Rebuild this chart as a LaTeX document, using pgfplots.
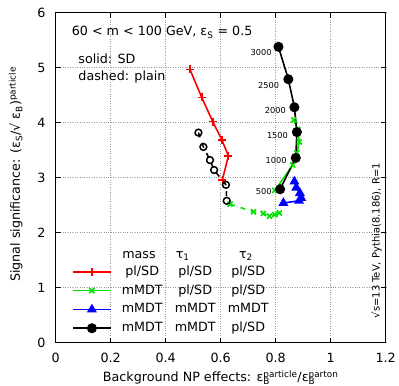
\documentclass[border=0pt]{standalone}
\usepackage{fontspec}
\setmainfont{DejaVu Sans}
\usepackage{pgfplots}
\pgfplotsset{compat=1.18}
\definecolor{gr}{RGB}{0,225,0}
\newcommand\lc[3]{\makebox[53bp]{#1}\makebox[53bp]{#2}\makebox[53bp]{#3}}
\begin{document}
\fontsize{12.7bp}{15bp}\selectfont
\begin{tikzpicture}[font=\fontsize{12.7bp}{15bp}\selectfont]
\path[use as bounding box] (-55.7bp,-43.3bp) rectangle (343.3bp,342.7bp);
\begin{axis}[at={(0,0)}, anchor=south west, scale only axis,
  width=330bp, height=330bp,
  xmin=0, xmax=1.2, ymin=0, ymax=6,
  xtick={0,0.2,0.4,0.6,0.8,1,1.2}, ytick={0,1,2,3,4,5,6},
  /pgf/number format/assume math mode=true,
  grid=major, grid style={dotted, gray!80, line width=0.6bp},
  axis line style={line width=1.2bp},
  major tick length=5bp,
  major tick style={line width=0.8bp, black},
  xticklabel style={yshift=-6bp},
  yticklabel style={xshift=-5.8bp},
  xlabel={Background NP effects: ε\rlap{\textsubscript{B}}\textsuperscript{particle}/ε\rlap{\textsubscript{B}}\textsuperscript{parton}},
  ylabel={Signal significance: (ε\textsubscript{S}/√ ε\textsubscript{B})\textsuperscript{particle}},
  xlabel style={at={(axis description cs:0.5,-0.106)}, anchor=center},
  ylabel style={at={(axis description cs:-0.1212,0.51)}, anchor=center},
  legend image code/.code={\draw[mark repeat=2,mark phase=2,#1] plot coordinates {(0bp,0bp) (19bp,0bp) (38bp,0bp)};},
  legend style={at={(axis cs:0.059,1.41)}, anchor=north west, draw=none, fill=none, inner sep=0pt,
    row sep=5.8bp, nodes={inner sep=0pt, text height=10bp, text depth=3bp}},
  legend cell align=left,
]
% red: mass pl/SD
\addplot[mark=+, mark size=4bp, color=red, line width=1.6bp] coordinates {
(0.488,4.97) (0.531,4.46) (0.571,4.02) (0.604,3.69) (0.628,3.40) (0.606,2.96)};
\addlegendentry{\hspace{4bp}\lc{pl/SD}{pl/SD}{pl/SD}}
% green solid
\addplot[color=gr, mark=x, mark size=3.6bp, line width=1.6bp] coordinates {
(0.797,2.77) (0.862,3.23) (0.877,3.45) (0.886,3.65) (0.880,3.88) (0.866,4.05)};
\addlegendentry{\hspace{4bp}\lc{mMDT}{pl/SD}{pl/SD}}
% blue
\addplot[blue, line width=1.6bp, mark=triangle*, mark size=4.2bp, mark options={solid}] coordinates {
(0.868,2.93) (0.875,2.82) (0.888,2.72) (0.893,2.63) (0.885,2.58) (0.828,2.54)};
\addlegendentry{\hspace{4bp}\lc{mMDT}{mMDT}{mMDT}}
% black solid
\addplot[black, line width=1.6bp, mark=*, mark size=4.2bp, mark options={solid}] coordinates {
(0.816,2.79) (0.873,3.36) (0.877,3.83) (0.868,4.28) (0.846,4.79) (0.810,5.38)};
\addlegendentry{\hspace{4bp}\lc{mMDT}{mMDT}{pl/SD}}
% dashed: plain
\addplot[forget plot, color=gr, line width=1.6bp, dash pattern=on 5bp off 6bp, mark=x, mark size=3.6bp, mark options={solid}] coordinates {
(0.634,2.52) (0.719,2.38) (0.755,2.35) (0.777,2.30) (0.797,2.33) (0.813,2.36)};
\addplot[forget plot, black, line width=1.5bp, dash pattern=on 5bp off 6bp, mark=o, mark size=3.4bp, mark options={solid}] coordinates {
(0.519,3.82) (0.537,3.56) (0.561,3.32) (0.576,3.14) (0.619,2.87) (0.622,2.58)};
% pt labels
\node[anchor=east, inner sep=0pt, font=\fontsize{8.2bp}{10bp}\selectfont] at (axis cs:0.7855,5.28) {3000};
\node[anchor=east, inner sep=0pt, font=\fontsize{8.2bp}{10bp}\selectfont] at (axis cs:0.813,4.673) {2500};
\node[anchor=east, inner sep=0pt, font=\fontsize{8.2bp}{10bp}\selectfont] at (axis cs:0.8375,4.218) {2000};
\node[anchor=east, inner sep=0pt, font=\fontsize{8.2bp}{10bp}\selectfont] at (axis cs:0.845,3.776) {1500};
\node[anchor=east, inner sep=0pt, font=\fontsize{8.2bp}{10bp}\selectfont] at (axis cs:0.84,3.309) {1000};
\node[anchor=east, inner sep=0pt, font=\fontsize{8.2bp}{10bp}\selectfont] at (axis cs:0.7855,2.745) {500};
% texts
\node[anchor=west, inner sep=0pt] at (axis cs:0.058,5.644) {60 < m < 100 GeV, ε\textsubscript{S} = 0.5};
\node[anchor=west, inner sep=0pt] at (axis cs:0.082,5.164) {solid: SD};
\node[anchor=west, inner sep=0pt] at (axis cs:0.082,4.836) {dashed: plain};
\node[anchor=base, inner sep=0pt] at (axis cs:0.303,1.535) {mass};
\node[anchor=base west, inner sep=0pt] at (axis cs:0.436,1.535) {τ\textsubscript{1}};
\node[anchor=base, inner sep=0pt] at (axis cs:0.692,1.535) {τ\textsubscript{2}};
\node[rotate=90, anchor=west, inner sep=0pt, font=\fontsize{10bp}{12bp}\selectfont] at (axis cs:1.1665,0.44) {√s=13 TeV, Pythia(8.186), R=1};
\end{axis}
\end{tikzpicture}
\end{document}
